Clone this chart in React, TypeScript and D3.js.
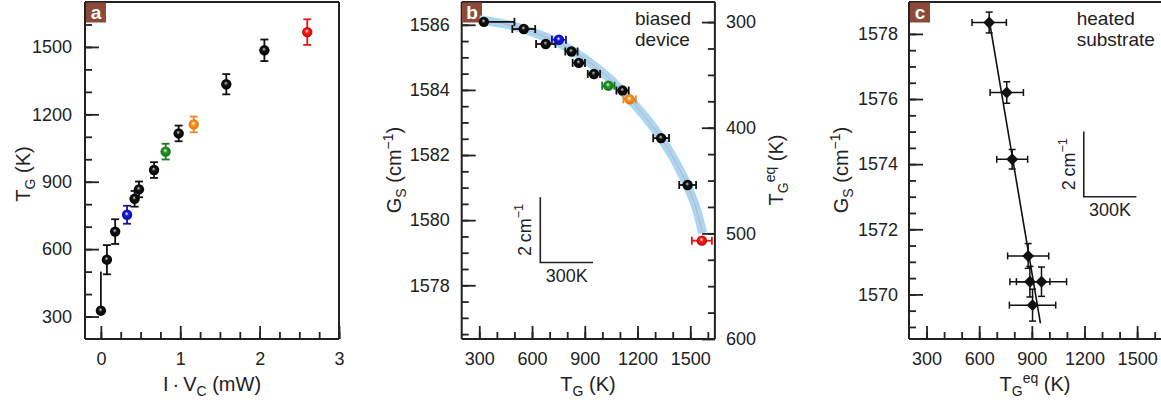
import React, { useRef, useEffect } from "react";
import * as d3 from "d3";

// ---- panel a / b : biased device ----
const powerMW = [0, 0.076, 0.18, 0.33, 0.425, 0.48, 0.67, 0.816, 0.98, 1.17, 1.58, 2.06, 2.6];
const tempG = [326, 553, 678, 753, 824, 866, 952, 1034, 1115, 1155, 1334, 1485, 1566];
const tempGErrLo = [10, 65, 55, 40, 35, 35, 35, 35, 35, 35, 45, 48, 57];
const tempGErrHi = [174, 65, 55, 40, 35, 35, 35, 35, 35, 35, 45, 48, 57];
const gsBiased = [1586.09, 1585.87, 1585.41, 1585.54, 1585.18, 1584.83, 1584.49, 1584.13, 1583.98, 1583.71, 1582.52, 1581.08, 1579.37];
const pointColors = ["black", "black", "black", "blue", "black", "black", "black", "green", "black", "orange", "black", "black", "red"];

// fit band in b
const biasFitT = [300, 450, 600, 750, 900, 1050, 1200, 1330, 1430, 1500, 1540, 1570];
const biasFitG = [1586.15, 1586.02, 1585.78, 1585.45, 1584.95, 1584.3, 1583.45, 1582.55, 1581.65, 1580.85, 1580.25, 1579.6];

// ---- panel c : heated substrate ----
const tempEq = [657, 757, 788, 879, 889, 955, 904];
const tempEqErr = [98, 95, 88, 117, 114, 143, 132];
const gsHeated = [1578.35, 1576.2, 1574.15, 1571.18, 1570.39, 1570.39, 1569.67];
const gsHeatedErr = [0.32, 0.33, 0.3, 0.38, 0.47, 0.45, 0.49];
const heatedFitT = [657, 949];
const heatedFitG = [1578.43, 1569.11];

// tick values
const aMajorY = [300, 600, 900, 1200, 1500];
const aMinorY = d3.range(300, 1700, 100);
const aMajorX = [0, 1, 2, 3];
const aMinorX = d3.range(0, 3.01, 0.25);
const tMajor = [300, 600, 900, 1200, 1500];
const tMinor = d3.range(300, 1601, 100);
const bMajorY = [1578, 1580, 1582, 1584, 1586];
const bMinorY = d3.range(1576.5, 1586.6, 0.5);
const bMajorR = [300, 400, 500, 600];
const bMinorR = d3.range(300, 600, 25);
const cMajorY = [1570, 1572, 1574, 1576, 1578];
const cMinorY = d3.range(1569, 1578.6, 0.5);

const FONT = "'Liberation Sans', Arial, Helvetica, sans-serif";
const INK = "#222";
const BROWN = "#8b4a3a";

const colorMap = {
  black: { base: "#111", dark: "#000", bar: "#111" },
  blue: { base: "#1818e0", dark: "#0a0a90", bar: "#14149a" },
  green: { base: "#22992a", dark: "#116616", bar: "#1a7a1e" },
  orange: { base: "#ff9326", dark: "#d86a00", bar: "#f08418" },
  red: { base: "#ff1a1a", dark: "#b00000", bar: "#e81414" },
};

const App = () => {
  const ref = useRef(null);

  useEffect(() => {
    const svg = d3.select(ref.current);
    svg.selectAll("*").remove();
    draw(svg);
  }, []);

  const draw = (svg) => {
    const defs = svg.append("defs");
    Object.entries(colorMap).forEach(([k, c]) => {
      const gr = defs
        .append("radialGradient")
        .attr("id", `ball-${k}`)
        .attr("cx", 0.5)
        .attr("cy", 0.5)
        .attr("r", 0.6)
        .attr("fx", 0.45)
        .attr("fy", 0.38);
      gr.append("stop").attr("offset", 0).attr("stop-color", k === "black" ? "#cfcfcf" : "#ffffff");
      gr.append("stop").attr("offset", 0.32).attr("stop-color", c.base);
      gr.append("stop").attr("offset", 1).attr("stop-color", c.dark);
    });

    const styleAxis = (sel) => {
      sel.select(".domain").remove();
      sel.selectAll("line").attr("stroke", INK).attr("stroke-width", 1.8);
      sel.selectAll("text").attr("fill", INK).attr("font-size", 18).attr("font-family", FONT);
    };

    const axis = (gen, transform, values, size, pad, withText) => {
      const a = gen
        .tickValues(values)
        .tickSize(-size)
        .tickPadding(pad)
        .tickFormat(withText ? d3.format("d") : () => "");
      svg.append("g").attr("transform", transform).call(a).call(styleAxis);
    };

    const box = (x0, x1, y0, y1, sides = "tlbr") => {
      const g = svg.append("g").attr("stroke", INK).attr("stroke-width", 2).attr("fill", "none");
      if (sides.includes("t")) g.append("line").attr("x1", x0).attr("x2", x1).attr("y1", y0).attr("y2", y0);
      if (sides.includes("b")) g.append("line").attr("x1", x0).attr("x2", x1).attr("y1", y1).attr("y2", y1);
      if (sides.includes("l")) g.append("line").attr("x1", x0).attr("x2", x0).attr("y1", y0).attr("y2", y1);
      if (sides.includes("r")) g.append("line").attr("x1", x1).attr("x2", x1).attr("y1", y0).attr("y2", y1);
    };

    const panelTag = (x, y, letter) => {
      svg.append("rect").attr("x", x).attr("y", y).attr("width", 20).attr("height", 20).attr("fill", BROWN);
      svg
        .append("text")
        .attr("x", x + 10)
        .attr("y", y + 16)
        .attr("text-anchor", "middle")
        .attr("font-family", FONT)
        .attr("font-weight", "bold")
        .attr("font-size", 19)
        .attr("fill", "white")
        .text(letter);
    };

    const label = (x, y, parts, opts = {}) => {
      const t = svg
        .append("text")
        .attr("font-family", FONT)
        .attr("font-size", opts.size || 20)
        .attr("fill", INK)
        .attr("text-anchor", opts.anchor || "middle");
      if (opts.rotate) t.attr("transform", `translate(${x},${y}) rotate(-90)`);
      else t.attr("x", x).attr("y", y);
      let shift = 0;
      parts.forEach(([txt, kind]) => {
        const target = kind === "sub" ? 5 : kind === "sup" ? -8 : 0;
        t.append("tspan")
          .attr("dy", target - shift)
          .attr("font-size", kind ? (opts.size || 20) * 0.7 : null)
          .text(txt);
        shift = target;
      });
      return t;
    };

    const sphere = (x, y, c) => {
      svg.append("circle").attr("cx", x).attr("cy", y).attr("r", 5.2).attr("fill", `url(#ball-${c})`);
    };

    // ================= panel a =================
    const ax = d3.scaleLinear().domain([-0.2, 3]).range([85, 339]);
    const ay = d3.scaleLinear().domain([200, 1700]).range([339, 2]);

    axis(d3.axisLeft(ay), "translate(85,0)", aMinorY, 7, 12, false);
    axis(d3.axisLeft(ay), "translate(85,0)", aMajorY, 14, 13, true);
    axis(d3.axisBottom(ax), "translate(0,339)", aMinorX, 7, 13, false);
    axis(d3.axisBottom(ax), "translate(0,339)", aMajorX, 13, 13, true);
    box(85, 339, 2, 339);
    panelTag(86, 2.5, "a");

    powerMW.forEach((p, i) => {
      const c = pointColors[i];
      const x = ax(p);
      const y0 = ay(tempG[i] - tempGErrLo[i]);
      const y1 = ay(tempG[i] + tempGErrHi[i]);
      const g = svg.append("g").attr("stroke", colorMap[c].bar).attr("stroke-width", 1.8);
      g.append("line").attr("x1", x).attr("x2", x).attr("y1", y0).attr("y2", y1);
      if (i > 0) g.append("line").attr("x1", x - 4).attr("x2", x + 4).attr("y1", y0).attr("y2", y0);
      g.append("line").attr("x1", i > 0 ? x - 4 : x).attr("x2", x + 4 * (i > 0 ? 1 : 0)).attr("y1", y1).attr("y2", y1);
      sphere(x, ay(tempG[i]), c);
    });

    label(30, 174, [["T"], ["G", "sub"], [" (K)"]], { rotate: true });
    label(212, 391, [["I\u2009·\u2009V"], ["C", "sub"], [" (mW)"]]);

    // ================= panel b =================
    const bx = d3.scaleLinear().domain([200, 1640]).range([461.7, 714.9]);
    const by = d3.scaleLinear().domain([1576.35, 1586.7]).range([339, 2]);
    const byR = d3.scaleLinear().domain([281, 600]).range([2, 339]);

    axis(d3.axisLeft(by), "translate(461.7,0)", bMinorY, 7, 12, false);
    axis(d3.axisLeft(by), "translate(461.7,0)", bMajorY, 14, 12, true);
    axis(d3.axisRight(byR), "translate(714.9,0)", bMinorR, 7, 11, false);
    axis(d3.axisRight(byR), "translate(714.9,0)", bMajorR, 13, 11, true);
    axis(d3.axisBottom(bx), "translate(0,339)", tMinor, 7, 13, false);
    axis(d3.axisBottom(bx), "translate(0,339)", tMajor, 13, 13, true);
    box(461.7, 714.9, 2, 339);
    panelTag(462, 2.5, "b");

    const fitLine = d3
      .line()
      .x((d) => bx(d[0]))
      .y((d) => by(d[1]))
      .curve(d3.curveMonotoneX);
    const fitPts = biasFitT.map((t, i) => [t, biasFitG[i]]);
    svg.append("path").attr("d", fitLine(fitPts)).attr("fill", "none").attr("stroke", "#a9d7f3").attr("stroke-width", 9).attr("stroke-linecap", "butt");
    svg.append("path").attr("d", fitLine(fitPts)).attr("fill", "none").attr("stroke", "#e39a9a").attr("stroke-width", 0.8);

    tempG.forEach((t, i) => {
      const c = pointColors[i];
      const y = by(gsBiased[i]);
      const x0 = bx(t - tempGErrLo[i]);
      const x1 = bx(t + tempGErrHi[i]);
      const g = svg.append("g").attr("stroke", colorMap[c].bar).attr("stroke-width", 1.8);
      g.append("line").attr("x1", x0).attr("x2", x1).attr("y1", y).attr("y2", y);
      if (i > 0) g.append("line").attr("x1", x0).attr("x2", x0).attr("y1", y - 4).attr("y2", y + 4);
      g.append("line").attr("x1", x1).attr("x2", x1).attr("y1", y - 4).attr("y2", y + 4);
      sphere(bx(t), y, c);
    });

    svg
      .append("text")
      .attr("font-family", FONT)
      .attr("font-size", 19)
      .attr("fill", INK)
      .selectAll("tspan")
      .data(["biased", "device"])
      .join("tspan")
      .attr("x", 635)
      .attr("y", (_, i) => 25 + i * 21)
      .text((d) => d);

    // scale bar b
    const barB = { t: 647, g: 1578.7 };
    const sb = svg.append("g").attr("stroke", INK).attr("stroke-width", 1.6).attr("fill", "none");
    sb.append("path").attr(
      "d",
      `M${bx(barB.t)},${by(barB.g + 2)}V${by(barB.g)}H${bx(barB.t + 300)}`
    );
    label(bx(barB.t) - 9.5, (by(barB.g) + by(barB.g + 2)) / 2, [["2\u2009cm"], ["\u22121", "sup"]], { rotate: true, size: 18 });
    label((bx(barB.t) + bx(barB.t + 300)) / 2, by(barB.g) + 20, [["300K"]], { size: 18 });

    label(401, 170, [["G"], ["S", "sub"], [" (cm"], ["\u22121", "sup"], [")"]], { rotate: true });
    label(783, 170, [["T"], ["G", "sub"], ["eq", "sup"], [" (K)"]], { rotate: true });
    label(588, 391, [["T"], ["G", "sub"], [" (K)"]]);

    // ================= panel c =================
    const cx = d3.scaleLinear().domain([200, 1640]).range([909, 1161.7]);
    const cy = d3.scaleLinear().domain([1568.63, 1578.98]).range([339, 2]);

    axis(d3.axisLeft(cy), "translate(909,0)", cMinorY, 7, 11, false);
    axis(d3.axisLeft(cy), "translate(909,0)", cMajorY, 14, 11, true);
    axis(d3.axisBottom(cx), "translate(0,339)", tMinor, 7, 13, false);
    axis(d3.axisBottom(cx), "translate(0,339)", tMajor, 13, 13, true);
    box(909, 1161.7, 2, 339, "tlb");
    panelTag(910, 2.5, "c");

    svg
      .append("line")
      .attr("x1", cx(heatedFitT[0]))
      .attr("y1", cy(heatedFitG[0]))
      .attr("x2", cx(heatedFitT[1]))
      .attr("y2", cy(heatedFitG[1]))
      .attr("stroke", "#111")
      .attr("stroke-width", 1.6);

    tempEq.forEach((t, i) => {
      const x = cx(t);
      const y = cy(gsHeated[i]);
      const x0 = cx(t - tempEqErr[i]);
      const x1 = cx(t + tempEqErr[i]);
      const y0 = cy(gsHeated[i] - gsHeatedErr[i]);
      const y1 = cy(gsHeated[i] + gsHeatedErr[i]);
      const g = svg.append("g").attr("stroke", "#111").attr("stroke-width", 1.5);
      g.append("line").attr("x1", x0).attr("x2", x1).attr("y1", y).attr("y2", y);
      g.append("line").attr("x1", x0).attr("x2", x0).attr("y1", y - 3.5).attr("y2", y + 3.5);
      g.append("line").attr("x1", x1).attr("x2", x1).attr("y1", y - 3.5).attr("y2", y + 3.5);
      g.append("line").attr("x1", x).attr("x2", x).attr("y1", y0).attr("y2", y1);
      g.append("line").attr("x1", x - 3.5).attr("x2", x + 3.5).attr("y1", y0).attr("y2", y0);
      g.append("line").attr("x1", x - 3.5).attr("x2", x + 3.5).attr("y1", y1).attr("y2", y1);
      svg
        .append("path")
        .attr("d", d3.symbol(d3.symbolDiamond2, 90)())
        .attr("transform", `translate(${x},${y})`)
        .attr("fill", "#111");
    });

    svg
      .append("text")
      .attr("font-family", FONT)
      .attr("font-size", 19)
      .attr("fill", INK)
      .selectAll("tspan")
      .data(["heated", "substrate"])
      .join("tspan")
      .attr("x", 1076.7)
      .attr("y", (_, i) => 24.5 + i * 21)
      .text((d) => d);

    // scale bar c
    const barC = { t: 1196, g: 1573.0 };
    const sc = svg.append("g").attr("stroke", INK).attr("stroke-width", 1.6).attr("fill", "none");
    sc.append("path").attr(
      "d",
      `M${cx(barC.t)},${cy(barC.g + 2)}V${cy(barC.g)}H${cx(barC.t + 300)}`
    );
    label(cx(barC.t) - 9, (cy(barC.g) + cy(barC.g + 2)) / 2, [["2\u2009cm"], ["\u22121", "sup"]], { rotate: true, size: 18 });
    label((cx(barC.t) + cx(barC.t + 300)) / 2, cy(barC.g) + 19.5, [["300K"]], { size: 18 });

    label(848, 170, [["G"], ["S", "sub"], [" (cm"], ["\u22121", "sup"], [")"]], { rotate: true });
    label(1035, 391, [["T"], ["G", "sub"], ["eq", "sup"], [" (K)"]]);
  };

  return (
    <svg
      ref={ref}
      width={1161}
      height={408}
      style={{ position: "absolute", left: 0, top: 0, background: "white" }}
    ></svg>
  );
};

export default App;
